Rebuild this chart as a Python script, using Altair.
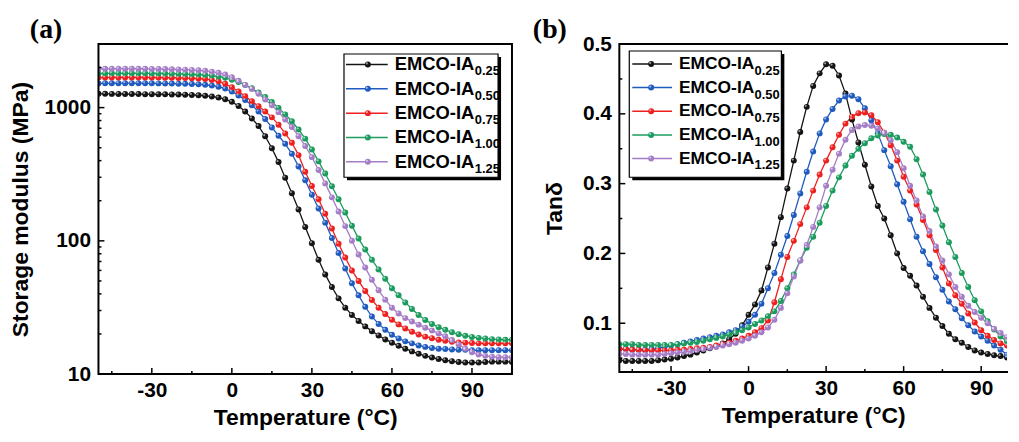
import altair as alt
import pandas as pd

# ---------------- data ----------------
TEMP = [-50, -47.5, -45, -42.5, -40, -37.5, -35, -32.5, -30, -27.5, -25, -22.5, -20, -17.5,
        -15, -12.5, -10, -7.5, -5, -2.5, 0, 2.5, 5, 7.5, 10, 12.5, 15, 17.5, 20, 22.5, 25,
        27.5, 30, 32.5, 35, 37.5, 40, 42.5, 45, 47.5, 50, 52.5, 55, 57.5, 60, 62.5, 65, 67.5,
        70, 72.5, 75, 77.5, 80, 82.5, 85, 87.5, 90, 92.5, 95, 97.5, 100, 102.5, 105]

SUBS = ["0.25", "0.50", "0.75", "1.00", "1.25"]
COLORS = ["#141414", "#1f5bbf", "#ee1f1f", "#1b9c5e", "#a47dc6"]

# Storage modulus (MPa)
E_025 = [1270, 1270, 1268, 1266, 1265, 1264, 1263, 1262, 1261, 1260, 1258, 1256, 1254, 1250, 1245,
         1238, 1228, 1212, 1190, 1155, 1105, 1030, 935, 830, 727, 610, 495, 390, 298, 228, 172, 127,
         96, 72, 56, 45, 37, 31.5, 27.8, 25, 22.8, 21, 19.5, 18.2, 17.2, 16.3, 15.5, 14.8, 14.2, 13.7,
         13.3, 13.0, 12.7, 12.5, 12.3, 12.2, 12.2, 12.2, 12.3, 12.4, 12.4, 12.4, 12.3]
E_050 = [1520, 1522, 1524, 1525, 1525, 1525, 1524, 1523, 1522, 1520, 1518, 1515, 1512, 1508, 1503,
         1495, 1485, 1465, 1435, 1390, 1320, 1235, 1140, 1040, 935, 820, 710, 615, 535, 450, 362, 285,
         222, 175, 137, 105, 81, 62, 48, 39, 32, 27, 23.8, 21.5, 19.7, 18.5, 17.6, 17.0, 16.4, 16.0,
         15.7, 15.5, 15.4, 15.3, 15.2, 15.2, 15.1, 15.1, 15.1, 15.1, 15.1, 15.1, 15.1]
E_075 = [1680, 1682, 1684, 1685, 1685, 1685, 1684, 1683, 1682, 1680, 1678, 1675, 1671, 1666, 1660,
         1652, 1640, 1615, 1575, 1510, 1420, 1320, 1215, 1115, 1025, 935, 845, 745, 640, 545, 440, 330,
         258, 205, 160, 124, 95, 75, 60, 50, 42, 36, 31.5, 28.2, 25.6, 23.6, 22.0, 20.8, 19.8, 19.1,
         18.6, 18.1, 17.8, 17.5, 17.3, 17.2, 17.1, 17.0, 17.0, 17.0, 17.0, 17.0, 17.0]
E_100 = [1800, 1805, 1808, 1810, 1810, 1810, 1809, 1808, 1806, 1804, 1801, 1797, 1792, 1786, 1779,
         1770, 1758, 1740, 1712, 1675, 1620, 1555, 1480, 1395, 1300, 1200, 1100, 995, 890, 790, 685, 585,
         485, 395, 320, 257, 205, 163, 130, 104, 86, 72, 61, 52, 44, 39, 34.5, 30.8, 27.8, 25.5,
         23.8, 22.5, 21.5, 20.6, 19.9, 19.4, 19.0, 18.7, 18.5, 18.3, 18.2, 18.1, 18.1]
E_125 = [1950, 1955, 1958, 1960, 1960, 1960, 1958, 1956, 1953, 1950, 1946, 1941, 1935, 1927, 1917,
         1905, 1888, 1862, 1825, 1770, 1690, 1590, 1480, 1380, 1270, 1150, 1040, 925, 815, 715, 610, 515,
         425, 340, 270, 212, 166, 129, 100, 79, 63, 51, 42.5, 36.2, 31.5, 28.5, 26.3, 24.8, 23.5, 22.3,
         21.2, 20.2, 19.2, 18.0, 16.7, 15.5, 14.6, 14.0, 13.7, 13.5, 13.4, 13.4, 13.4]

# Tan delta
D_025 = [.047, .046, .046, .046, .046, .046, .047, .048, .049, .051, .053, .055, .058, .061, .064,
         .067, .071, .077, .085, .097, .112, .127, .147, .180, .214, .252, .293, .333, .374, .410, .440,
         .458, .471, .469, .455, .429, .392, .359, .327, .296, .268, .250, .226, .200, .179, .168, .154,
         .138, .122, .108, .096, .085, .077, .072, .066, .061, .058, .056, .054, .053, .051, .049, .047]
D_050 = [.063, .063, .062, .062, .062, .063, .064, .066, .068, .070, .072, .074, .076, .078, .080,
         .082, .084, .087, .090, .095, .102, .112, .128, .150, .172, .198, .225, .255, .286, .317, .346,
         .372, .392, .407, .419, .425, .426, .421, .408, .391, .372, .348, .325, .299, .274, .249, .224,
         .203, .185, .166, .148, .131, .120, .107, .097, .088, .081, .075, .068, .062, .055, .049, .045]
D_075 = [.063, .063, .062, .062, .061, .061, .061, .061, .061, .062, .062, .063, .064, .065, .066,
         .068, .070, .072, .075, .078, .082, .087, .093, .104, .130, .163, .195, .218, .242, .266, .290,
         .313, .333, .352, .370, .386, .396, .401, .402, .398, .388, .373, .355, .333, .310, .290, .270,
         .248, .226, .205, .180, .157, .140, .128, .114, .101, .090, .082, .076, .071, .068, .065, .062]
D_100 = [.070, .070, .070, .069, .069, .069, .069, .069, .069, .070, .071, .072, .073, .075, .077,
         .079, .081, .084, .087, .090, .094, .099, .104, .110, .117, .132, .150, .170, .190, .208, .224,
         .244, .268, .290, .309, .326, .340, .350, .358, .365, .369, .371, .370, .366, .360, .353, .335,
         .313, .288, .263, .240, .216, .195, .172, .152, .133, .117, .103, .091, .081, .074, .068, .063]
D_125 = [.056, .056, .055, .055, .055, .055, .055, .056, .057, .058, .059, .060, .062, .063, .065,
         .066, .068, .070, .072, .075, .078, .082, .087, .094, .105, .122, .143, .167, .190, .212, .238,
         .266, .297, .320, .343, .363, .377, .382, .384, .383, .379, .373, .362, .345, .322, .297, .276,
         .253, .232, .210, .190, .170, .152, .138, .125, .116, .108, .100, .092, .086, .080, .075, .071]

X_TICKS = [-30, 0, 30, 60, 90]
X_MINOR = [-45, -15, 15, 45, 75]
E_TICKS = [10, 100, 1000]
E_MINOR = [20, 30, 40, 50, 60, 70, 80, 90, 200, 300, 400, 500, 600, 700, 800, 900, 2000]
D_TICKS = [0.1, 0.2, 0.3, 0.4, 0.5]
D_MINOR = [0.05, 0.15, 0.25, 0.35, 0.45]


def long_df(series_list):
    rows = []
    for sub, vals in zip(SUBS, series_list):
        for t, v in zip(TEMP, vals):
            rows.append({"T": t, "v": v, "s": sub})
    return pd.DataFrame(rows)


df_e = long_df([E_025, E_050, E_075, E_100, E_125])
df_d = long_df([D_025, D_050, D_075, D_100, D_125])

FONT = "Liberation Sans"
color = alt.Color("s:N", scale=alt.Scale(domain=SUBS, range=COLORS), legend=None)


def panel(df, xmax, ys, ydom, yvals, ymin, yfmt, ytitle, ytitle_pad, w, h, leg, label, label_x, tag, closed):
    one = pd.DataFrame({"k": [tag]})
    xs = alt.Scale(domain=[-50, xmax], nice=False, zero=False)
    xaxis = alt.Axis(values=X_TICKS, title="Temperature (°C)", grid=False, ticks=False,
                     domain=False, labelFont=FONT, labelFontWeight="bold", labelFontSize=21,
                     labelColor="black", labelPadding=6, labelFlush=False, labelOverlap=False,
                     labelExpr="datum.value < 0 ? '-' + abs(datum.value) : '' + datum.value",
                     titleFont=FONT, titleFontWeight="bold", titleFontSize=23, titleColor="black",
                     titlePadding=6)
    yaxis = alt.Axis(values=yvals, format=yfmt, title=ytitle, grid=False, ticks=False,
                     domain=False, labelFont=FONT, labelFontWeight="bold", labelFontSize=21,
                     labelColor="black", labelPadding=8, labelFlush=False, labelOverlap=False,
                     titleFont=FONT, titleFontWeight="bold", titleFontSize=23, titleColor="black",
                     titlePadding=ytitle_pad)
    base = alt.Chart(df).transform_filter(f"datum.T <= {xmax} + 0.1")
    lines = base.mark_line(strokeWidth=1.3, clip=True).encode(
        x=alt.X("T:Q", scale=xs, axis=xaxis), y=alt.Y("v:Q", scale=ys, axis=yaxis), color=color)
    pts = base.mark_circle(size=36, opacity=1, clip=True).encode(
        x=alt.X("T:Q"), y=alt.Y("v:Q"), color=color)
    hl = base.mark_circle(size=5, color="white", opacity=0.55, xOffset=-1, yOffset=-1, clip=True).encode(
        x=alt.X("T:Q"), y=alt.Y("v:Q"))

    def xt(vals, ln):
        return alt.Chart(pd.DataFrame({"T": vals})).mark_rule(color="black", strokeWidth=1.5).encode(
            x=alt.X("T:Q"), y=alt.value(h), y2=alt.value(h - ln))

    def yt(vals, ln):
        return alt.Chart(pd.DataFrame({"v": vals})).mark_rule(color="black", strokeWidth=1.5).encode(
            y=alt.Y("v:Q"), x=alt.value(0), x2=alt.value(ln))

    # plot frame as a polyline through the corners, in data coordinates
    if closed:
        fx = [xmax, -50, -50, xmax, xmax]
        fy = [ydom[1], ydom[1], ydom[0], ydom[0], ydom[1]]
    else:
        fx = [xmax, -50, -50, xmax]
        fy = [ydom[1], ydom[1], ydom[0], ydom[0]]
    frame_df = pd.DataFrame({"T": fx, "v": fy, "o": list(range(len(fx)))})
    frame = alt.Chart(frame_df).mark_line(color="black", strokeWidth=2, strokeCap="square").encode(
        x=alt.X("T:Q"), y=alt.Y("v:Q"), order="o:Q")

    bx0, bx1, by0, by1 = leg["box"]
    layers = [lines, pts, hl, xt(X_TICKS, 6), xt(X_MINOR, 3), yt(yvals, 6), yt(ymin, 3), frame]
    layers.append(alt.Chart(one).mark_rect(fill="black").encode(
        x=alt.value(bx0 + 3), x2=alt.value(bx1 + 3), y=alt.value(by0 + 3), y2=alt.value(by1 + 3)))
    layers.append(alt.Chart(one).mark_rect(fill="white", stroke="black", strokeWidth=1.2).encode(
        x=alt.value(bx0), x2=alt.value(bx1), y=alt.value(by0), y2=alt.value(by1)))
    for i, (sub, col) in enumerate(zip(SUBS, COLORS)):
        yy = leg["y0"] + i * leg["dy"]
        layers.append(alt.Chart(one).mark_rule(strokeWidth=1.5, color=col).encode(
            x=alt.value(leg["l0"]), x2=alt.value(leg["l1"]), y=alt.value(yy)))
        layers.append(alt.Chart(one).mark_circle(size=36, opacity=1, color=col).encode(
            x=alt.value(leg["m"]), y=alt.value(yy)))
        layers.append(alt.Chart(one).mark_circle(size=5, opacity=0.55, color="white").encode(
            x=alt.value(leg["m"] - 1), y=alt.value(yy - 1)))
        layers.append(alt.Chart(one).mark_text(text="EMCO-IA", align="left", baseline="middle",
                                               font=FONT, fontWeight="bold", fontSize=leg["fs"],
                                               color="black").encode(
            x=alt.value(leg["tx"]), y=alt.value(yy)))
        layers.append(alt.Chart(one).mark_text(text=sub, align="left", baseline="middle",
                                               font=FONT, fontWeight="bold", fontSize=13,
                                               color="black").encode(
            x=alt.value(leg["sx"]), y=alt.value(yy + 7)))
    layers.append(alt.Chart(one).mark_text(text=label, align="left", baseline="alphabetic",
                                           font="Liberation Serif", fontWeight="bold", fontSize=28,
                                           color="black").encode(
        x=alt.value(label_x), y=alt.value(-6)))
    return alt.layer(*layers).properties(width=w, height=h)


left = panel(df_e, 105, alt.Scale(type="log", domain=[10, 3000], nice=False), [10, 3000],
             E_TICKS, E_MINOR, "d", "Storage modulus (MPa)", 12, 416, 332,
             {"box": (247, 402, 10, 134), "y0": 20.5, "dy": 24.5, "l0": 249, "l1": 291, "m": 271,
              "tx": 298, "sx": 378.5, "fs": 18.5}, "(a)", -69, "a", True)
right = panel(df_d, 100, alt.Scale(domain=[0.03, 0.5], nice=False, zero=False), [0.03, 0.5],
              D_TICKS, D_MINOR, ".1f", "Tanδ", 16, 390, 330,
              {"box": (10, 163, 7, 134), "y0": 20, "dy": 23.8, "l0": 13, "l1": 53, "m": 32,
               "tx": 60, "sx": 136, "fs": 17.5}, "(b)", -87, "b", False)

chart = alt.hconcat(left, right, spacing=17).properties(
    padding={"left": 1, "top": 7, "right": 0, "bottom": 0}
).configure_view(strokeWidth=0)

chart.save("out.html", embed_options={"renderer": "svg", "actions": False})
